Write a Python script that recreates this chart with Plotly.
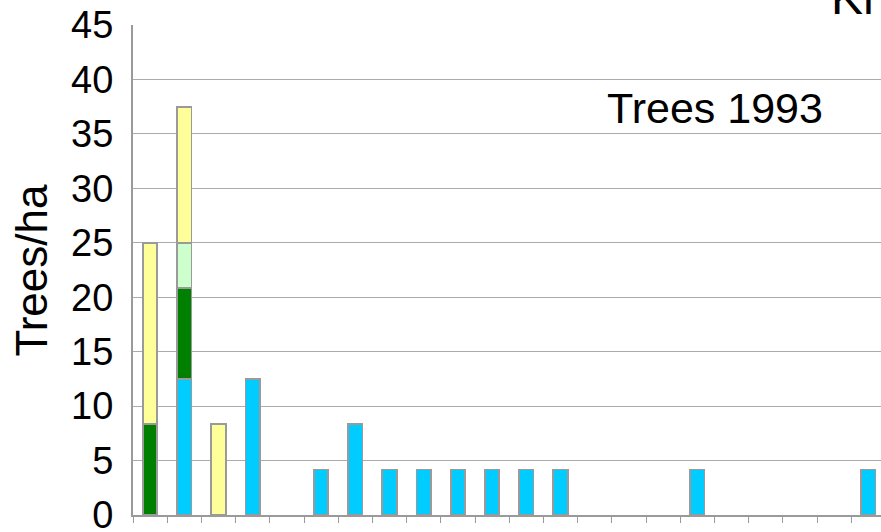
import plotly.graph_objects as go

# Data (trees/ha per diameter class, stacked by group); None = no bar
categories = list(range(22))
cyan_vals = [None, 12.5, None, 12.5, None, 4.17, 8.33, 4.17, 4.17, 4.17, 4.17, 4.17, 4.17,
             None, None, None, 4.17, None, None, None, None, 4.17]
darkgreen_vals = [8.33, 8.33] + [None] * 20
lightgreen_vals = [None, 4.17] + [None] * 20
yellow_vals = [16.67, 12.5, 8.33] + [None] * 19
y_ticks = [0, 5, 10, 15, 20, 25, 30, 35, 40, 45]

series = [
    ("Group A", cyan_vals, "#00CCFF"),
    ("Group B", darkgreen_vals, "#008000"),
    ("Group C", lightgreen_vals, "#CCFFCC"),
    ("Group D", yellow_vals, "#FFFF99"),
]

fig = go.Figure()
for name, vals, col in series:
    fig.add_trace(go.Bar(
        x=categories, y=vals, name=name, width=0.42,
        marker=dict(color=col, line=dict(color="#9A9A9A", width=1.8)),
        showlegend=False,
    ))

FONT = "Liberation Sans, Arial, sans-serif"
fig.update_layout(
    barmode="stack",
    width=881, height=532,
    margin=dict(l=133, r=0, t=25, b=17, autoexpand=False),
    paper_bgcolor="white", plot_bgcolor="white",
    font=dict(family=FONT, color="black"),
    xaxis=dict(
        range=[-0.5, 21.37], showgrid=False, zeroline=False, automargin=False,
        showline=True, linecolor="#9A9A9A", linewidth=2,
        tickmode="array", tickvals=[i - 0.5 for i in range(23)],
        ticks="outside", ticklen=6, tickcolor="#9A9A9A", tickwidth=1,
        showticklabels=False,
    ),
    yaxis=dict(
        range=[0, 45], tickvals=y_ticks, showgrid=True, gridcolor="#ABABAB", gridwidth=1,
        zeroline=False, showline=True, linecolor="#9A9A9A", linewidth=2, automargin=False,
        tickfont=dict(size=38, family=FONT), ticklabelstandoff=10,
        ticklabeloverflow="allow",
    ),
    annotations=[
        dict(text="Trees/ha", xref="paper", yref="paper", x=-0.137, y=0.5,
             xanchor="center", yanchor="middle", textangle=-90, showarrow=False,
             font=dict(size=44, family=FONT, color="black")),
        dict(text="Trees 1993", xref="paper", yref="y", x=0.631, y=37.4,
             xanchor="left", yanchor="middle", showarrow=False,
             font=dict(size=43, family=FONT, color="black")),
        dict(text="Kr", xref="paper", yref="paper", x=0.93, y=1.0, yshift=-1,
             xanchor="left", yanchor="bottom", showarrow=False,
             font=dict(size=48, family=FONT, color="black")),
    ],
)

fig.write_html("out.html", config={"displayModeBar": False},
               post_script="document.body.style.margin='0';")
